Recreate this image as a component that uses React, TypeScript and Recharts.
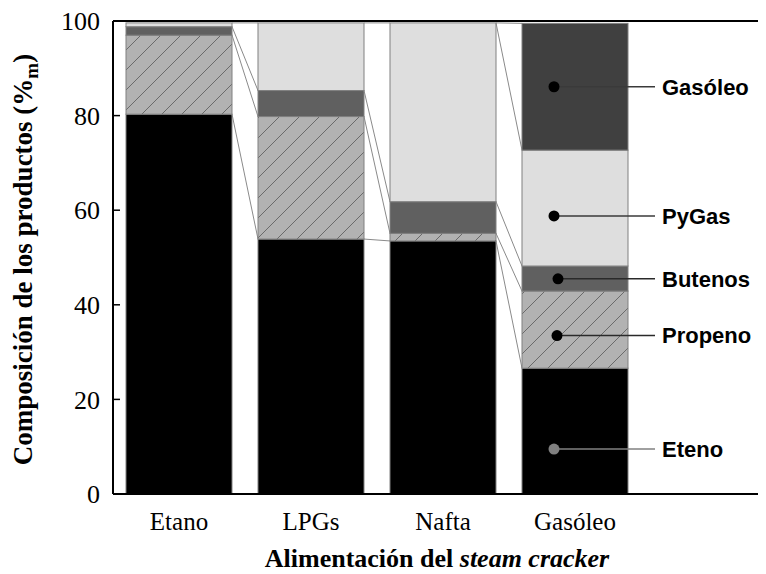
import React from 'react';
import { BarChart, Bar, XAxis, YAxis, ReferenceLine, ReferenceDot } from 'recharts';

// ---- data ----
const categories = ['Etano', 'LPGs', 'Nafta', 'Gasóleo'];
const eteno = [80.3, 53.9, 53.5, 26.6];
const propeno = [16.7, 25.9, 1.6, 16.3];
const butenos = [1.8, 5.5, 6.7, 5.3];
const pygas = [0.8, 14.3, 37.8, 24.5];
const gasoleo = [0, 0, 0, 26.8];
const yTicks = [0, 20, 40, 60, 80, 100];

const seriesNames = ['Eteno', 'Propeno', 'Butenos', 'PyGas', 'Gasóleo'];
const seriesValues = [eteno, propeno, butenos, pygas, gasoleo];

// annotation labels placed on the Gasóleo bar
const labelNames = ['Gasóleo', 'PyGas', 'Butenos', 'Propeno', 'Eteno'];
const labelValues = [86.1, 58.8, 45.5, 33.5, 9.5];

// ---- styles / layout ----
const W = 758;
const H = 566;
const MARGIN = { top: 13, right: 0, left: 0, bottom: 0 };
const LEFT_AXIS_W = 105;
const RIGHT_AXIS_W = 1;
const X_AXIS_H = 80;
const PAD_RIGHT = 124;
const BAR_SIZE = 106;
const PLOT_W = W - MARGIN.left - MARGIN.right - LEFT_AXIS_W - RIGHT_AXIS_W;
const BAND = (PLOT_W - PAD_RIGHT) / categories.length;

const fills = ['#000000', 'url(#hatch)', '#606060', '#dedede', '#404040'];
const labelDx = [-21, -21, -17, -18, -21];
const dotColors = ['#000', '#000', '#000', '#000', '#808080'];
const lineColors = ['#3a3a3a', '#3a3a3a', '#2a2a2a', '#2a2a2a', '#808080'];

const SERIF = '"Liberation Serif", "Times New Roman", Times, serif';
const SANS = '"Liberation Sans", Arial, Helvetica, sans-serif';

const data = categories.map((c, i) => {
  const row: Record<string, any> = { name: c };
  seriesNames.forEach((s, k) => {
    row[s] = seriesValues[k][i];
  });
  return row;
});

const cumAt = (s: number, i: number) => {
  let t = 0;
  for (let k = 0; k <= s; k++) t += seriesValues[k][i];
  return t;
};

function makeShape(s: number) {
  return (props: any) => {
    const { x, y, width, height, index } = props;
    const v = seriesValues[s][index];
    const els: React.ReactNode[] = [];
    if (height > 0) {
      els.push(
        <rect key="r" x={x} y={y} width={width} height={height} fill={fills[s]} stroke="#808080" strokeWidth={1} />
      );
    }
    if (index > 0 && v > 0 && height > 0) {
      const k = height / v;
      const yPrev = y + (cumAt(s, index) - cumAt(s, index - 1)) * k;
      const gap = BAND - width;
      els.push(
        <line key="l" x1={x} y1={y} x2={x - gap} y2={yPrev} stroke="#8a8a8a" strokeWidth={1} />
      );
    }
    return <g>{els}</g>;
  };
}

function makeAnnot(i: number) {
  return (props: any) => {
    const { cx, cy } = props;
    return (
      <g>
        <line x1={cx + labelDx[i]} y1={cy} x2={cx + 80} y2={cy} stroke={lineColors[i]} strokeWidth={1.5} />
        <circle cx={cx + labelDx[i]} cy={cy} r={5.5} fill={dotColors[i]} />
        <text
          x={cx + 87}
          y={cy}
          dy="0.36em"
          fontFamily={SANS}
          fontWeight="bold"
          fontSize={22}
          fill="#000"
        >
          {labelNames[i]}
        </text>
      </g>
    );
  };
}

const YTitle = (props: any) => {
  const vb = props.viewBox || { x: 0, y: MARGIN.top, width: LEFT_AXIS_W, height: 473 };
  const cx = vb.x + 24;
  const cy = vb.y + vb.height / 2 + 2;
  return (
    <text
      x={cx}
      y={cy}
      transform={`rotate(-90, ${cx}, ${cy})`}
      textAnchor="middle"
      fontFamily={SERIF}
      fontWeight="bold"
      fontSize={27}
      fill="#000"
    >
      <tspan>Composición de los productos (%</tspan>
      <tspan fontSize={19} dy={6}>m</tspan>
      <tspan dy={-6}>)</tspan>
    </text>
  );
};

const XTitle = (props: any) => {
  const vb = props.viewBox || { x: LEFT_AXIS_W, y: H - X_AXIS_H, width: PLOT_W, height: X_AXIS_H };
  const cx = vb.x + vb.width / 2 - 2;
  const cy = vb.y + 73;
  return (
    <text x={cx} y={cy} textAnchor="middle" fontFamily={SERIF} fontWeight="bold" fontSize={26} fill="#000">
      <tspan>Alimentación del </tspan>
      <tspan fontStyle="italic">steam cracker</tspan>
    </text>
  );
};

export default function App() {
  return (
    <div style={{ width: W, height: H, background: '#fff' }}>
      <BarChart width={W} height={H} data={data} margin={MARGIN}>
        <defs>
          <pattern id="hatch" patternUnits="userSpaceOnUse" width={20} height={20}>
            <rect width={20} height={20} fill="#b2b2b2" />
            <path d="M0,20 L20,0 M-5,5 L5,-5 M15,25 L25,15" stroke="#6a6a6a" strokeWidth={1} />
          </pattern>
        </defs>
        <XAxis
          dataKey="name"
          height={X_AXIS_H}
          padding={{ left: 0, right: PAD_RIGHT }}
          tickLine={false}
          tickSize={0}
          tickMargin={18}
          axisLine={{ stroke: '#000', strokeWidth: 2 }}
          tick={{ fontFamily: SERIF, fontSize: 25, fill: '#000' }}
          interval={0}
          label={<XTitle />}
        />
        <YAxis
          yAxisId="l"
          width={LEFT_AXIS_W}
          domain={[0, 100]}
          ticks={yTicks}
          interval={0}
          tickSize={-7}
          tickMargin={20}
          axisLine={{ stroke: '#000', strokeWidth: 2 }}
          tickLine={{ stroke: '#000', strokeWidth: 1.5 }}
          tick={{ fontFamily: SERIF, fontSize: 26, fill: '#000' }}
          label={<YTitle />}
        />
        <YAxis
          yAxisId="r"
          orientation="right"
          width={RIGHT_AXIS_W}
          domain={[0, 100]}
          ticks={yTicks}
          interval={0}
          tickSize={-3}
          tick={false}
          axisLine={{ stroke: '#000', strokeWidth: 2 }}
          tickLine={{ stroke: '#c8c8c8', strokeWidth: 1 }}
        />
        {seriesNames.map((s, k) => (
          <Bar
            key={s}
            dataKey={s}
            stackId="a"
            yAxisId="l"
            barSize={BAR_SIZE}
            isAnimationActive={false}
            shape={makeShape(k)}
          />
        ))}
        <ReferenceLine yAxisId="l" y={100} stroke="#000" strokeWidth={2} ifOverflow="extendDomain" />
        {labelNames.map((n, i) => (
          <ReferenceDot
            key={n}
            yAxisId="l"
            x="Gasóleo"
            y={labelValues[i]}
            r={5}
            ifOverflow="visible"
            shape={makeAnnot(i)}
          />
        ))}
      </BarChart>
    </div>
  );
}
